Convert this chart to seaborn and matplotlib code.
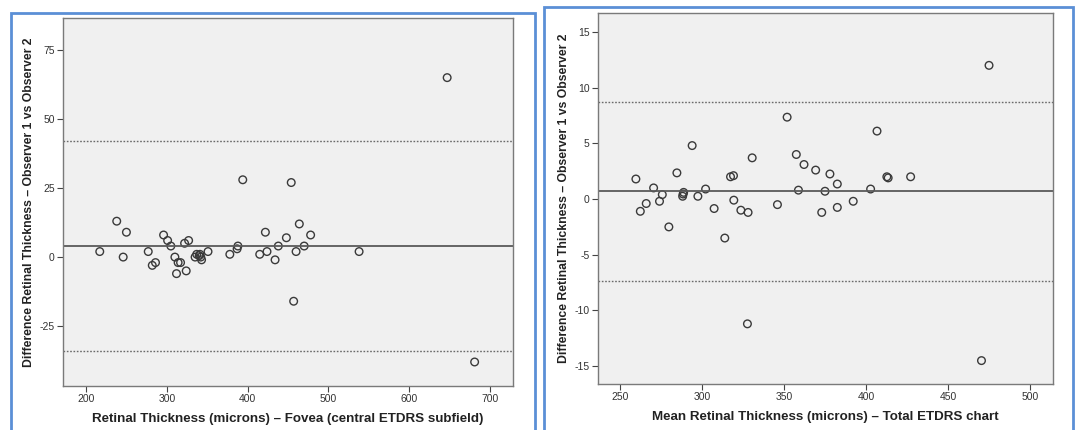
import matplotlib
matplotlib.use("Agg")

import matplotlib.pyplot as plt
import seaborn as sns
from matplotlib.patches import Rectangle

sns.set_style("white")
plt.rcParams['font.family'] = ['Liberation Sans', 'DejaVu Sans']
plt.rcParams['axes.unicode_minus'] = False

# Fovea (central ETDRS subfield)
fovea_mean = [647, 681, 394, 454, 457, 538, 217, 238, 250, 246, 277, 282, 286,
              296, 301, 305, 310, 312, 314, 317, 322, 327, 324, 335, 337, 340,
              341, 342, 343, 351, 378, 387, 388, 415, 422, 424, 434, 438, 448,
              460, 464, 470, 478]
fovea_diff = [65, -38, 28, 27, -16, 2, 2, 13, 9, 0, 2, -3, -2,
              8, 6, 4, 0, -6, -2, -2, 5, 6, -5, 0, 1, 0.5,
              1, 0, -1, 2, 1, 3, 4, 1, 9, 2, -1, 4, 7,
              2, 12, 4, 8]
fovea_bias = 4.0
fovea_loa = [41.9, -33.9]

# Total ETDRS chart
total_mean = [474.8, 470.2, 327.5, 351.7, 406.5, 293.8, 357.3, 330.4, 362.0,
              369.1, 377.8, 259.5, 284.5, 317.2, 319.0, 412.5, 413.3, 427.0,
              382.3, 270.3, 275.6, 273.9, 265.8, 262.2, 279.6, 288.6, 288.3,
              288.0, 297.3, 302.0, 307.2, 313.7, 319.2, 323.5, 327.9, 345.8,
              358.6, 372.8, 374.8, 382.3, 392.0, 402.6]
total_diff = [12.0, -14.5, -11.2, 7.35, 6.1, 4.8, 4.0, 3.7, 3.1,
              2.6, 2.25, 1.8, 2.35, 2.0, 2.1, 2.0, 1.9, 2.0,
              1.35, 1.0, 0.4, -0.2, -0.4, -1.1, -2.5, 0.6, 0.45,
              0.25, 0.25, 0.9, -0.85, -3.5, -0.1, -1.0, -1.2, -0.5,
              0.8, -1.2, 0.7, -0.75, -0.2, 0.9]
total_bias = 0.69
total_loa = [8.72, -7.37]


def bland_altman(ax, x, y, bias, loa, xlim, ylim, xticks, yticks, xlabel):
    ax.set_facecolor('#f0f0f0')
    sns.scatterplot(x=x, y=y, ax=ax, marker='o', s=30,
                    facecolors='none', edgecolors='#3a3a3a', linewidth=1.0)
    ax.axhline(bias, color='#5a5a5a', linewidth=1.3, zorder=1)
    for v in loa:
        ax.axhline(v, color='#6a6a6a', linewidth=1.0,
                   linestyle=(0, (1.2, 1.2)), zorder=1)
    ax.set_xlim(*xlim)
    ax.set_ylim(*ylim)
    ax.set_xticks(xticks)
    ax.set_yticks(yticks)
    ax.tick_params(axis='both', direction='out', length=4, width=0.8,
                   color='#444444', labelsize=7.5, labelcolor='#333333',
                   bottom=True, left=True, pad=2)
    for s in ax.spines.values():
        s.set_color('#7a7a7a')
        s.set_linewidth(1.0)
    ax.set_xlabel(xlabel, fontsize=9.6, fontweight='bold', color='#222222',
                  labelpad=6)
    ax.set_ylabel("Difference Retinal Thickness \u2013 Observer 1 vs Observer 2",
                  fontsize=8.8, fontweight='bold', color='#222222', labelpad=3)


fig = plt.figure(figsize=(10.78, 4.30), dpi=100)

# blue frames around each panel
fig.patches.append(Rectangle((11 / 1078, -0.05), 524 / 1078, 1.05 - 13 / 430,
                             transform=fig.transFigure, fill=False,
                             edgecolor='#5b8fd6', linewidth=2))
fig.patches.append(Rectangle((544 / 1078, -0.05), 529 / 1078, 1.05 - 7 / 430,
                             transform=fig.transFigure, fill=False,
                             edgecolor='#5b8fd6', linewidth=2))

ax1 = fig.add_axes([63 / 1078, 44 / 430, 450 / 1078, 368 / 430])
bland_altman(ax1, fovea_mean, fovea_diff, fovea_bias, fovea_loa,
             (171.5, 728.5), (-46.7, 86.6),
             [200, 300, 400, 500, 600, 700], [-25, 0, 25, 50, 75],
             "Retinal Thickness (microns) \u2013 Fovea (central ETDRS subfield)")

ax2 = fig.add_axes([598 / 1078, 46 / 430, 455 / 1078, 371 / 430])
bland_altman(ax2, total_mean, total_diff, total_bias, total_loa,
             (236.4, 513.8), (-16.6, 16.7),
             [250, 300, 350, 400, 450, 500], [-15, -10, -5, 0, 5, 10, 15],
             "Mean Retinal Thickness (microns) \u2013 Total ETDRS chart")

plt.savefig("out.png", dpi=100)
plt.close()
